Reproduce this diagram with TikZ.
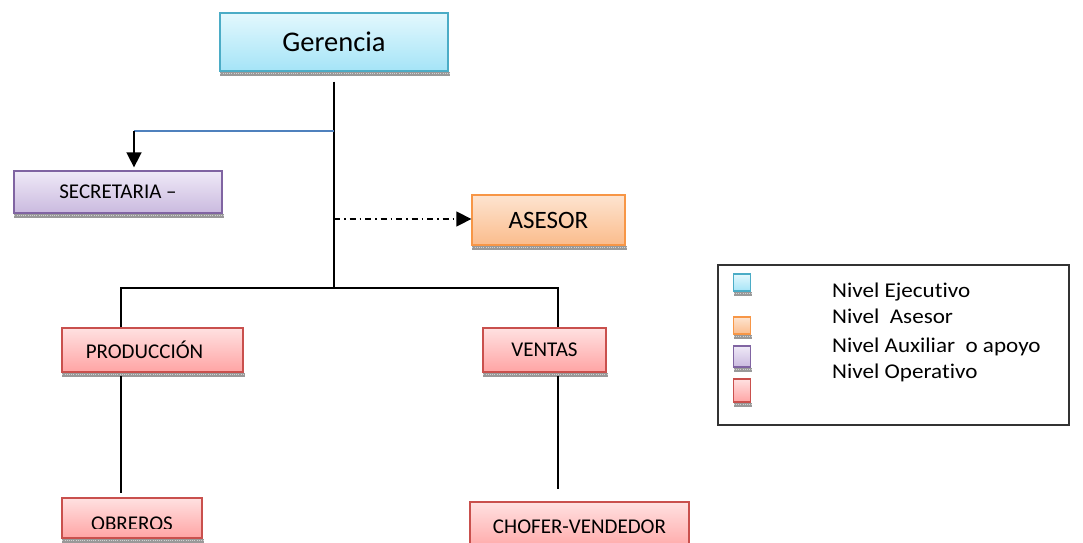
\documentclass[tikz,border=0pt]{standalone}
\usepackage{fontspec}
\setmainfont[Ligatures=NoCommon]{Carlito}
\newfontfamily\legendfont[FakeStretch=1.1, Ligatures=NoCommon]{Carlito}
\usetikzlibrary{arrows.meta}

\definecolor{cyanedge}{HTML}{4BACC6}
\definecolor{cyantop}{HTML}{E3F8FD}
\definecolor{cyanbot}{HTML}{A5E4F7}
\definecolor{orangeedge}{HTML}{F79646}
\definecolor{orangetop}{HTML}{FDE4D0}
\definecolor{orangebot}{HTML}{FBBC8C}
\definecolor{purpleedge}{HTML}{8064A2}
\definecolor{purpletop}{HTML}{EFE9F7}
\definecolor{purplebot}{HTML}{CABADF}
\definecolor{rededge}{HTML}{C9504D}
\definecolor{redtop}{HTML}{FFE1E1}
\definecolor{redbot}{HTML}{FFA4A4}
\definecolor{branchblue}{HTML}{4F81BD}

% grey hatched strip under a box
\newcommand\shadowstrip[1]{%
  \fill[gray!80] ([xshift=1pt]#1.south west) rectangle ([xshift=1pt,yshift=-4pt]#1.south east);
  \draw[gray!35, line width=1.2pt, dash pattern=on 1pt off 1.2pt]
    ([xshift=1pt,yshift=-2pt]#1.south west) -- ([xshift=1pt,yshift=-2pt]#1.south east);}

\tikzset{
  orgbox/.style={draw, line width=1.3pt, shading=axis, inner sep=0pt,
    font=\fontsize{21}{25}\selectfont},
  execbox/.style={orgbox, draw=cyanedge, top color=cyantop, bottom color=cyanbot},
  advbox/.style={orgbox, draw=orangeedge, top color=orangetop, bottom color=orangebot},
  auxbox/.style={orgbox, draw=purpleedge, top color=purpletop, bottom color=purplebot},
  opbox/.style={orgbox, draw=rededge, top color=redtop, bottom color=redbot},
  swatch/.style={minimum width=17pt, minimum height=17pt},
  tie/.style={draw=black, line width=1.6pt},
  legtext/.style={anchor=base west, inner sep=0pt, font=\legendfont\fontsize{21}{25}\selectfont},
}

\begin{document}
\begin{tikzpicture}[x=1pt, y=-1pt]
\useasboundingbox (0,0) rectangle (1083,542);

% junction points of the chart
\coordinate (hub) at (334,288);
\coordinate (secfork) at (334,131);
\coordinate (secbend) at (134,131);
\coordinate (advfork) at (334,219);
\coordinate (pcol) at (121,288);
\coordinate (vcol) at (558,288);

% boxes
\node[execbox, minimum width=228pt, minimum height=58pt, font=\fontsize{28.5}{34}\selectfont]
  (ger) at (334,42) {Gerencia};
\node[auxbox, minimum width=208pt, minimum height=42pt] (sec) at (118,192) {SECRETARIA –};
\node[advbox, minimum width=153pt, minimum height=50pt, font=\fontsize{25}{30}\selectfont]
  (ase) at (548.5,220) {ASESOR};
\node[opbox, minimum width=181pt, minimum height=44pt] (prod) at (152.5,350)
  {PRODUCCIÓN\hspace*{16pt}};
\node[opbox, minimum width=123pt, minimum height=44pt] (ven) at (544.5,350) {VENTAS};
\node[opbox, minimum width=140pt, minimum height=40pt] (obr) at (132,518) {};
\begin{scope}
  \clip (obr.north west) rectangle (202,528);
  \node[inner sep=0pt, font=\fontsize{21}{25}\selectfont] (obrtxt) at (132,523.5) {OBREROS};
\end{scope}
\node[opbox, minimum width=219pt, minimum height=50pt] (cho) at (579.5,527) {CHOFER-VENDEDOR};

\shadowstrip{ger}
\shadowstrip{sec}
\shadowstrip{ase}
\shadowstrip{prod}
\shadowstrip{ven}
\shadowstrip{obr}

% connectors
\draw[tie, shorten <=10pt] (ger.south) -- (hub);
\draw[branchblue, line width=1.4pt] (secfork) -- (secbend);
\draw[black, line width=1.6pt, -{Triangle[length=15pt, width=15pt]}, shorten >=3pt]
  (secbend) -- (secbend |- sec.north);
\draw[black, line width=1.4pt, dash pattern=on 6pt off 4pt on 1.5pt off 4pt,
  -{Triangle[length=15pt, width=15pt]}] (advfork) -- (advfork -| ase.west);
\draw[tie] (pcol |- prod.north) -- (pcol) -- (vcol) -- (vcol |- ven.north);
\draw[tie, shorten <=3pt, shorten >=4pt] (pcol |- prod.south) -- (pcol |- obr.north);
\draw[tie, shorten <=3pt, shorten >=12pt] (vcol |- ven.south) -- (vcol |- cho.north);

% legend
\node[draw=black!80, line width=1.2pt, minimum width=351pt, minimum height=160pt, inner sep=0pt]
  (leg) at (893.5,345) {};
\node[execbox, swatch] (sw1) at (742,282.5) {};
\node[advbox, swatch] (sw2) at (742,325.5) {};
\node[auxbox, swatch, minimum height=21pt] (sw3) at (742,356.5) {};
\node[opbox, swatch, minimum height=23pt] (sw4) at (742,390.5) {};
\shadowstrip{sw1}
\shadowstrip{sw2}
\shadowstrip{sw3}
\shadowstrip{sw4}
\node[legtext] (lt1) at (832,297) {Nivel Ejecutivo};
\node[legtext] (lt2) at (832,323) {Nivel\ \ Asesor};
\node[legtext] (lt3) at (832,352) {Nivel Auxiliar\ \ o apoyo};
\node[legtext] (lt4) at (832,378) {Nivel Operativo};
\end{tikzpicture}
\end{document}
